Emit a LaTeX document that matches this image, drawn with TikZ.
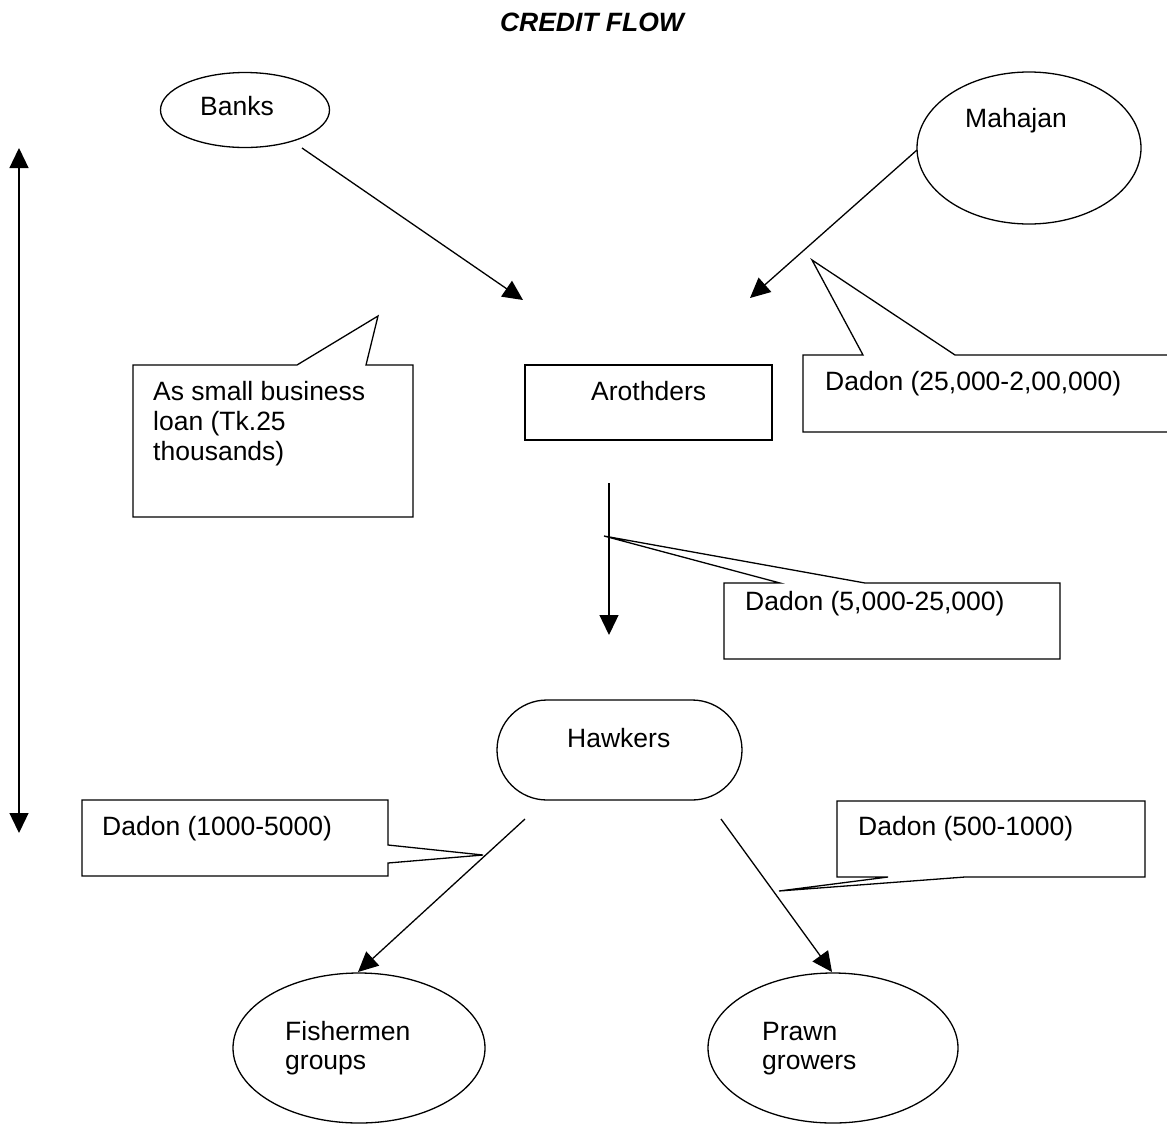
\documentclass[tikz,border=0pt]{standalone}
\usepackage{fontspec}
\setmainfont{Liberation Sans}
\usetikzlibrary{arrows.meta,shapes.geometric}
\begin{document}
\begin{tikzpicture}[x=1pt,y=-1pt,
  ln/.style={line width=1.3pt},
  arr/.style={ln,-{Triangle[length=20pt,width=19pt]}},
  dblarr/.style={ln,{Triangle[length=20pt,width=19pt]}-{Triangle[length=20pt,width=19pt]}},
  txt/.style={anchor=base west,inner sep=0pt,font=\fontsize{26.5}{30}\selectfont},
  oval/.style={draw,ellipse,ln,inner sep=0pt},
  callout/.style={draw,ln,line join=miter}]
\useasboundingbox (0,0) rectangle (1167,1125);
% title
\node[anchor=base,inner sep=0pt,font=\bfseries\itshape\fontsize{26.5}{30}\selectfont] (title) at (592,31) {CREDIT FLOW};
% shapes
\node[oval,minimum width=169pt,minimum height=75pt] (banks) at (245,110) {};
\node[oval,minimum width=224pt,minimum height=152pt] (mahajan) at (1029,148) {};
\node[draw,ln,minimum width=247pt,minimum height=75pt,inner sep=0pt] (aroth) at (648.5,402.5) {};
\node[draw,ln,rounded corners=50pt,minimum width=245pt,minimum height=100pt,inner sep=0pt] (hawk) at (619.5,750) {};
\node[oval,minimum width=252pt,minimum height=150pt] (fish) at (359,1048) {};
\node[oval,minimum width=250pt,minimum height=150pt] (prawn) at (833,1048) {};
% callouts
\draw[callout] (133,365) -- (297,365) -- (378,316) -- (366,365) -- (413,365) -- (413,517) -- (133,517) -- cycle;
\draw[callout] (1167,432) -- (803,432) -- (803,355) -- (863,355) -- (812,260) -- (955,355) -- (1167,355);
\draw[callout] (724,583) -- (780,583) -- (604,536) -- (865,583) -- (1060,583) -- (1060,659) -- (724,659) -- cycle;
\draw[callout] (82,800) -- (388,800) -- (388,845) -- (483,855) -- (388,863) -- (388,876) -- (82,876) -- cycle;
\draw[callout] (837,801) -- (1145,801) -- (1145,877) -- (965,877) -- (779,891) -- (888,877) -- (837,877) -- cycle;
% texts
\node[txt] (banksT) at (200,115) {Banks};
\node[txt] (mahajanT) at (965,127) {Mahajan};
\node[txt] (loan1) at (153,400) {As small business};
\node[txt] (loan2) at (153,430) {loan (Tk.25};
\node[txt] (loan3) at (153,460) {thousands)};
\node[txt] (arothT) at (591,400) {Arothders};
\node[txt] (dadon1) at (825,390) {Dadon (25,000-2,00,000)};
\node[txt] (dadon2) at (745,610) {Dadon (5,000-25,000)};
\node[txt] (hawkT) at (567,747) {Hawkers};
\node[txt] (dadon3) at (102,835) {Dadon (1000-5000)};
\node[txt] (dadon4) at (858,835) {Dadon (500-1000)};
\node[txt] (fish1) at (285,1040) {Fishermen};
\node[txt] (fish2) at (285,1069) {groups};
\node[txt] (prawn1) at (762,1040) {Prawn};
\node[txt] (prawn2) at (762,1069) {growers};
% connector end points
\coordinate (b0) at (302,148);
\coordinate (b1) at (523,300);
\coordinate (m0) at (917,150);
\coordinate (m1) at (750,298);
\coordinate (d0) at (609,483);
\coordinate (d1) at (609,635);
\coordinate (v0) at (19,148);
\coordinate (v1) at (19,833);
\coordinate (h0) at (525,819);
\coordinate (h1) at (358,972);
\coordinate (p0) at (721,819);
\coordinate (p1) at (832,972);
% connectors
\draw[arr] (b0) -- (b1);
\draw[arr] (m0) -- (m1);
\draw[arr] (d0) -- (d1);
\draw[dblarr] (v0) -- (v1);
\draw[arr] (h0) -- (h1);
\draw[arr] (p0) -- (p1);
\end{tikzpicture}
\end{document}
